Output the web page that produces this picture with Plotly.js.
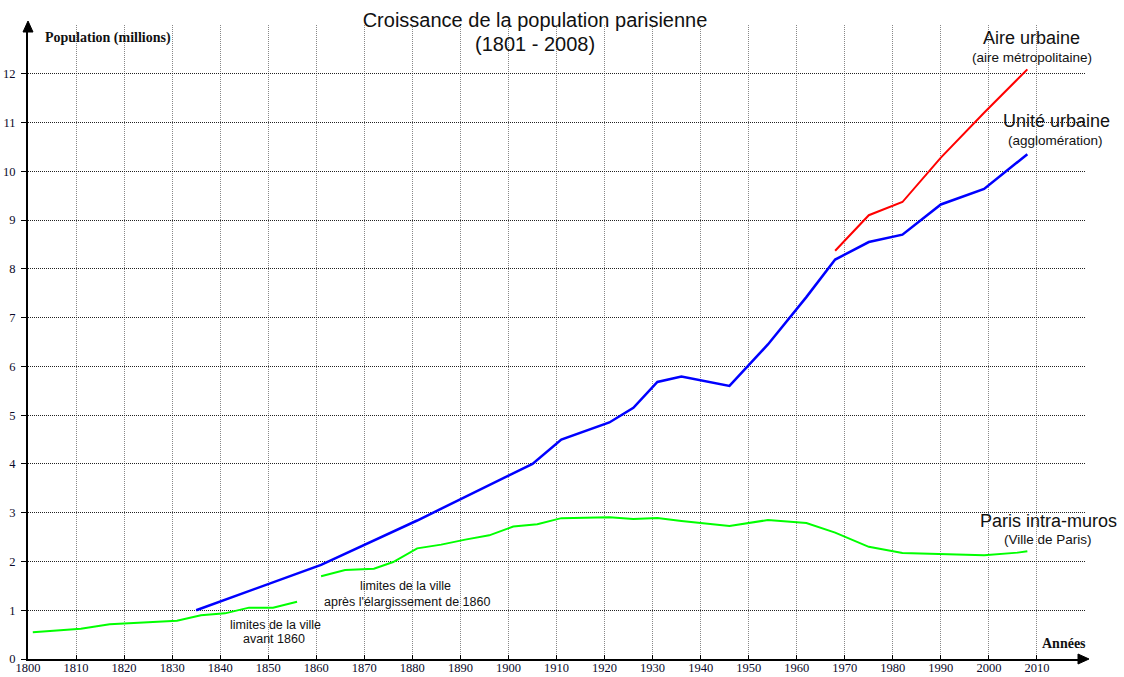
<!DOCTYPE html>
<html><head><meta charset="utf-8">
<script src="https://cdn.plot.ly/plotly-3.0.1.min.js"></script>
<style>html,body{margin:0;padding:0;background:#fff}#chart{width:1124px;height:677px}</style>
</head><body><div id="chart"></div>
<script>
// Paris intra-muros, city limits before 1860
const parisOldYears = [1801, 1811, 1817, 1831, 1836, 1841, 1846, 1851, 1856];
const parisOldPop = [0.547, 0.622, 0.714, 0.786, 0.899, 0.936, 1.053, 1.053, 1.174];
// Paris intra-muros, city limits after 1860
const parisYears = [1861, 1866, 1872, 1876, 1881, 1886, 1891, 1896, 1901, 1906, 1911, 1921, 1926, 1931, 1936, 1946, 1954, 1962, 1968, 1975, 1982, 1990, 1999, 2006, 2008];
const parisPop = [1.696, 1.825, 1.852, 1.988, 2.269, 2.345, 2.448, 2.536, 2.715, 2.763, 2.888, 2.906, 2.871, 2.891, 2.830, 2.725, 2.850, 2.790, 2.591, 2.300, 2.176, 2.152, 2.125, 2.181, 2.211];
// Unité urbaine (agglomération)
const uniteYears = [1835, 1861, 1881, 1905, 1911, 1921, 1926, 1931, 1936, 1946, 1954, 1962, 1968, 1975, 1982, 1990, 1999, 2008];
const unitePop = [1.0, 1.93, 2.84, 4.0, 4.5, 4.85, 5.15, 5.68, 5.79, 5.6, 6.45, 7.42, 8.19, 8.55, 8.7, 9.32, 9.64, 10.35];
// Aire urbaine (aire métropolitaine)
const aireYears = [1968, 1975, 1982, 1990, 1999, 2008];
const airePop = [8.37, 9.1, 9.37, 10.28, 11.2, 12.09];
// Tick labels
const xTicks = [1800, 1810, 1820, 1830, 1840, 1850, 1860, 1870, 1880, 1890, 1900, 1910, 1920, 1930, 1940, 1950, 1960, 1970, 1980, 1990, 2000, 2010];
const yTicks = [0, 1, 2, 3, 4, 5, 6, 7, 8, 9, 10, 11, 12];

const W = 1124, H = 677, L = 28, R = 1085, T = 25, B = 659;
const px = x => (x - L) / (R - L);
const py = y => (B - y) / (B - T);

const green = '#00ff00';
const traces = [
  {x: parisOldYears, y: parisOldPop, mode: 'lines', line: {color: green, width: 2}, hoverinfo: 'x+y'},
  {x: parisYears, y: parisPop, mode: 'lines', line: {color: green, width: 2}, hoverinfo: 'x+y'},
  {x: uniteYears, y: unitePop, mode: 'lines', line: {color: '#0000ff', width: 2.5}, hoverinfo: 'x+y'},
  {x: aireYears, y: airePop, mode: 'lines', line: {color: '#ff0000', width: 2}, hoverinfo: 'x+y'}
];

function ann(text, x, y, size, family, bold) {
  return {text: bold ? '<b>' + text + '</b>' : text, xref: 'paper', yref: 'paper', x: px(x), y: py(y),
    xanchor: 'center', yanchor: 'middle', showarrow: false,
    font: {family: family || 'Liberation Sans, Arial, sans-serif', size: size, color: '#111'}};
}
const serif = 'Liberation Serif, Times New Roman, serif';

const annotations = [
  ann('(1801 - 2008)', 535, 44, 20),
  ann('Population (millions)', 108, 38, 14, serif, true),
  ann('Années', 1064, 643, 14, serif, true),
  ann('Aire urbaine', 1031, 38, 18),
  ann('(aire métropolitaine)', 1032, 57, 13.5),
  ann('Unité urbaine', 1056, 121, 18),
  ann('(agglomération)', 1055, 140, 13.5),
  ann('Paris intra-muros', 1048, 521, 18),
  ann('(Ville de Paris)', 1048, 539, 13.5),
  ann('limites de la ville', 275, 625, 12.5),
  ann('avant 1860', 274, 639, 12.5),
  ann('limites de la ville', 405, 586, 12.5),
  ann("après l'élargissement de 1860", 407, 602, 12.5)
];

const shapes = [
  {type: 'path', xref: 'paper', yref: 'paper', fillcolor: '#000', line: {color: '#000', width: 1},
   path: `M ${px(1089)} ${py(B)} L ${px(1078)} ${py(B - 5)} L ${px(1078)} ${py(B + 5)} Z`},
  {type: 'path', xref: 'paper', yref: 'paper', fillcolor: '#000', line: {color: '#000', width: 1},
   path: `M ${px(L)} ${py(21)} L ${px(L - 5)} ${py(32)} L ${px(L + 5)} ${py(32)} Z`}
];

const axisCommon = {
  showgrid: true, griddash: '1px,1px', gridwidth: 1,
  showline: true, linecolor: '#000', linewidth: 2, mirror: false,
  tickcolor: '#000', tickwidth: 1,
  tickfont: {family: serif, size: 12.5, color: '#0a0a2a'},
  zeroline: false, fixedrange: true
};

const layout = {
  width: W, height: H,
  margin: {l: L, r: W - R, t: T, b: H - B, pad: 0},
  paper_bgcolor: '#fff', plot_bgcolor: '#fff', showlegend: false,
  title: {text: 'Croissance de la population parisienne',
    font: {family: 'Liberation Sans, Arial, sans-serif', size: 20, color: '#111'},
    x: 535 / W, xref: 'container', xanchor: 'center', y: 1 - 20 / H, yref: 'container', yanchor: 'middle'},
  xaxis: Object.assign({}, axisCommon, {range: [1800, 2020], tickvals: xTicks, ticktext: xTicks.map(String),
    ticks: 'inside', ticklen: 4, gridcolor: '#888', ticklabelstandoff: -4}),
  yaxis: Object.assign({}, axisCommon, {range: [0, 13], tickvals: yTicks, ticktext: yTicks.map(String),
    ticks: 'outside', ticklen: 5, gridcolor: '#222', ticklabelstandoff: 3}),
  annotations: annotations,
  shapes: shapes
};

Plotly.newPlot('chart', traces, layout, {displayModeBar: false, staticPlot: true});
</script>
</body></html>
